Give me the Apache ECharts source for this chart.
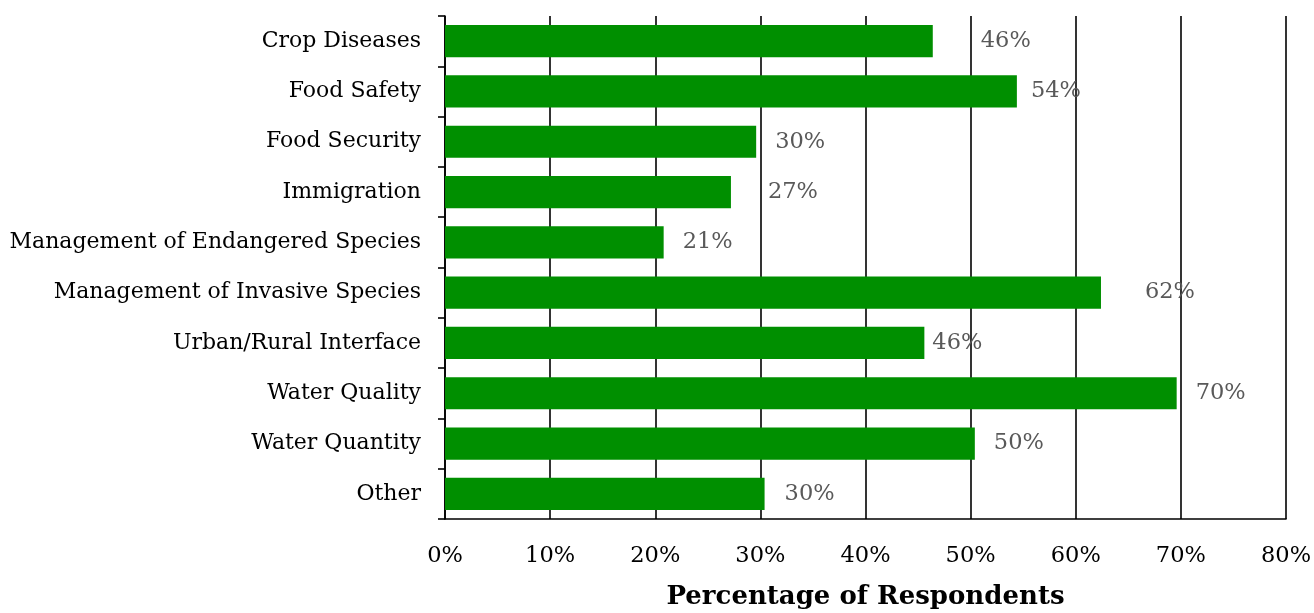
<!DOCTYPE html>
<html>
<head>
<meta charset="utf-8">
<script src="https://cdn.jsdelivr.net/npm/echarts@6/dist/echarts.min.js"></script>
<style>
  html, body { margin: 0; padding: 0; background: #fff; }
  #chart { width: 1314px; height: 613px; }
</style>
</head>
<body>
<div id="chart"></div>
<script>
// Issues named by respondents, top to bottom
const categories = [
  'Crop Diseases',
  'Food Safety',
  'Food Security',
  'Immigration',
  'Management of Endangered Species',
  'Management of Invasive Species',
  'Urban/Rural Interface',
  'Water Quality',
  'Water Quantity',
  'Other'
];

// Share of respondents (%)
const percentages = [46.4, 54.4, 29.6, 27.2, 20.8, 62.4, 45.6, 69.6, 50.4, 30.4];

// Axis ticks (%)
const axisMin = 0;
const axisMax = 80;
const axisStep = 10;

// Gap between bar end and its value label (px)
const labelGaps = [48, 14, 19, 37, 19, 44, 8, 19, 19, 20];

const FONT = 'DejaVu Serif';

const chart = echarts.init(document.getElementById('chart'), null, { renderer: 'canvas' });

chart.setOption({
  animation: false,
  backgroundColor: '#ffffff',
  grid: {
    left: 445, right: 28, top: 16, bottom: 94,
    containLabel: false,
    outerBoundsMode: 'none'
  },
  xAxis: {
    type: 'value',
    min: axisMin,
    max: axisMax,
    interval: axisStep,
    name: 'Percentage of Respondents',
    nameLocation: 'middle',
    nameGap: 65,
    nameTextStyle: { fontFamily: FONT, fontWeight: 'bold', fontSize: 26, color: '#000' },
    axisLine: { show: true, lineStyle: { color: '#000', width: 1.6 } },
    axisTick: { show: false },
    axisLabel: {
      formatter: v => v + '%',
      fontFamily: FONT, fontSize: 22.5, color: '#000', margin: 26
    },
    splitLine: { show: true, lineStyle: { color: '#000', width: 1.6 } }
  },
  yAxis: {
    type: 'category',
    data: categories,
    inverse: true,
    axisLine: { show: true, lineStyle: { color: '#000', width: 1.6 } },
    axisTick: { show: true, length: 7, lineStyle: { color: '#000', width: 1.6 } },
    axisLabel: {
      fontFamily: FONT, fontSize: 22, color: '#000', margin: 24,
      padding: [6, 0, 0, 0]
    },
    splitLine: { show: false }
  },
  series: [{
    type: 'bar',
    data: percentages.map((v, i) => ({
      value: v,
      label: { distance: labelGaps[i] }
    })),
    barCategoryGap: '36%',
    itemStyle: { color: '#008f00' },
    label: {
      show: true,
      position: 'right',
      formatter: p => Math.round(p.value) + '%',
      fontFamily: FONT,
      fontSize: 22.5,
      color: '#595959',
      padding: [6, 0, 0, 0]
    }
  }]
});
</script>
</body>
</html>
